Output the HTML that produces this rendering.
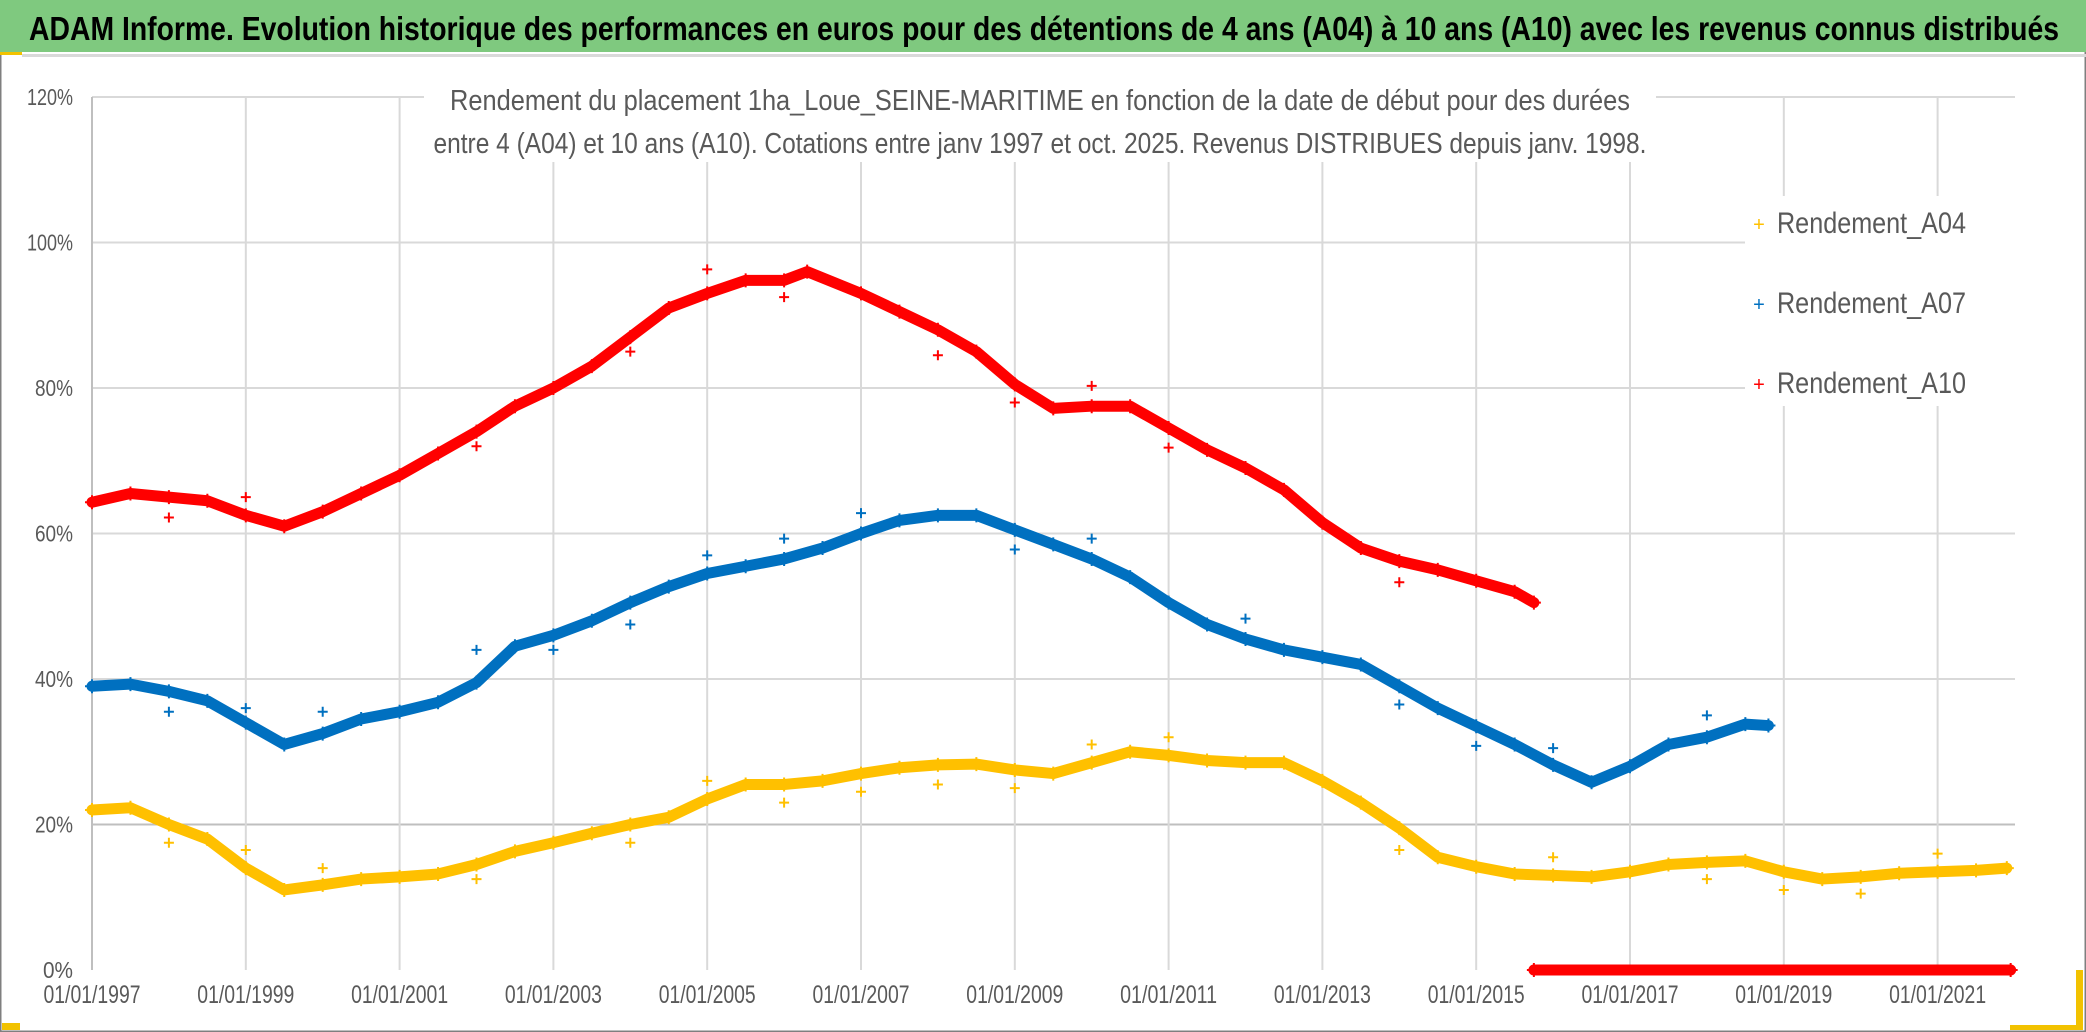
<!DOCTYPE html>
<html><head><meta charset="utf-8"><style>
html,body{margin:0;padding:0;background:#fff}
svg{display:block}
text{font-family:"Liberation Sans Narrow","Liberation Sans",sans-serif}
</style></head><body>
<svg id="chart" width="2086" height="1032" viewBox="0 0 2086 1032" xmlns="http://www.w3.org/2000/svg">
<rect x="0" y="0" width="2086" height="1032" fill="#fff" stroke="#7f7f7f" stroke-width="3"/>
<rect x="0" y="0" width="2086" height="52" fill="#7fc97f"/>
<rect x="0" y="52" width="22" height="3" fill="#f2c200"/>
<rect x="22" y="54" width="2064" height="3" fill="#d9d9d9"/>
<text x="29" y="40" font-size="33" font-weight="bold" fill="#000" textLength="2030" lengthAdjust="spacingAndGlyphs">ADAM Informe. Evolution historique des performances en euros pour des détentions de 4 ans (A04) à 10 ans (A10) avec les revenus connus distribués</text>
<rect x="2076" y="970" width="7" height="60" fill="#f2c200"/>
<rect x="2010" y="1025" width="73" height="5" fill="#f2c200"/>
<rect x="2" y="1023" width="18" height="7" fill="#f2c200"/>
<g id="grid"></g>
<g id="yticks"></g>
<g id="xticks"></g>
<rect x="424" y="88" width="1232" height="74" fill="#fff"/>
<text x="1040" y="110" font-size="29" fill="#595959" text-anchor="middle" textLength="1180" lengthAdjust="spacingAndGlyphs">Rendement du placement 1ha_Loue_SEINE-MARITIME en fonction de la date de début pour des durées</text>
<text x="1040" y="153" font-size="29" fill="#595959" text-anchor="middle" textLength="1213" lengthAdjust="spacingAndGlyphs">entre 4 (A04) et 10 ans (A10). Cotations entre janv 1997 et oct. 2025. Revenus DISTRIBUES depuis janv. 1998.</text>
<g id="series"></g>
<rect x="1745" y="196" width="270" height="210" fill="#fff"/>
<g>
 <g><text x="1759" y="231" font-size="20" fill="#ffc000" text-anchor="middle">+</text><text x="1777" y="233" font-size="30" fill="#595959" textLength="189" lengthAdjust="spacingAndGlyphs">Rendement_A04</text></g>
 <g><text x="1759" y="311" font-size="20" fill="#0070c0" text-anchor="middle">+</text><text x="1777" y="313" font-size="30" fill="#595959" textLength="189" lengthAdjust="spacingAndGlyphs">Rendement_A07</text></g>
 <g><text x="1759" y="391" font-size="20" fill="#ff0000" text-anchor="middle">+</text><text x="1777" y="393" font-size="30" fill="#595959" textLength="189" lengthAdjust="spacingAndGlyphs">Rendement_A10</text></g>
</g>
</svg>
<script>
const yTicks=[0,20,40,60,80,100,120];
const xTickYears=[1997,1999,2001,2003,2005,2007,2009,2011,2013,2015,2017,2019,2021];
const xTickLabels=["01/01/1997","01/01/1999","01/01/2001","01/01/2003","01/01/2005","01/01/2007","01/01/2009","01/01/2011","01/01/2013","01/01/2015","01/01/2017","01/01/2019","01/01/2021"];
const a04Dates=[1997,1997.5,1998,1998.5,1999,1999.5,2000,2000.5,2001,2001.5,2002,2002.5,2003,2003.5,2004,2004.5,2005,2005.5,2006,2006.5,2007,2007.5,2008,2008.5,2009,2009.5,2010,2010.5,2011,2011.5,2012,2012.5,2013,2013.5,2014,2014.5,2015,2015.5,2016,2016.5,2017,2017.5,2018,2018.5,2019,2019.5,2020,2020.5,2021,2021.5,2021.9];
const a04Values=[22,22.3,20,18,14,11,11.7,12.5,12.8,13.2,14.5,16.3,17.5,18.8,20,21,23.5,25.5,25.5,26,27,27.8,28.2,28.3,27.5,27,28.5,30,29.5,28.8,28.5,28.5,26,23,19.5,15.5,14.2,13.2,13,12.8,13.5,14.5,14.8,15,13.5,12.5,12.8,13.3,13.5,13.7,14];
const a04OutDates=[1998,1999,2000,2002,2004,2005,2006,2007,2008,2009,2010,2011,2014,2016,2018,2019,2020,2021];
const a04OutValues=[17.5,16.5,14,12.5,17.5,26,23,24.5,25.5,25,31,32,16.5,15.5,12.5,11,10.5,16];
const a07Dates=[1997,1997.5,1998,1998.5,1999,1999.5,2000,2000.5,2001,2001.5,2002,2002.5,2003,2003.5,2004,2004.5,2005,2005.5,2006,2006.5,2007,2007.5,2008,2008.5,2009,2009.5,2010,2010.5,2011,2011.5,2012,2012.5,2013,2013.5,2014,2014.5,2015,2015.5,2016,2016.5,2017,2017.5,2018,2018.5,2018.8];
const a07Values=[39,39.3,38.3,37,34,31,32.5,34.5,35.5,36.8,39.5,44.5,46,48,50.5,52.7,54.5,55.5,56.5,58,60,61.8,62.5,62.5,60.5,58.5,56.5,54,50.5,47.5,45.5,44,43,42,39,36,33.5,31,28.2,25.8,28,31,32,33.8,33.6];
const a07OutDates=[1998,1999,2000,2002,2003,2004,2005,2006,2007,2009,2010,2012,2014,2015,2016,2018];
const a07OutValues=[35.5,36,35.5,44,44,47.5,57,59.3,62.8,57.8,59.3,48.3,36.5,30.8,30.5,35];
const a10Dates=[1997,1997.5,1998,1998.5,1999,1999.5,2000,2000.5,2001,2001.5,2002,2002.5,2003,2003.5,2004,2004.5,2005,2005.5,2006,2006.3,2007,2007.5,2008,2008.5,2009,2009.5,2010,2010.5,2011,2011.5,2012,2012.5,2013,2013.5,2014,2014.5,2015,2015.5,2015.75];
const a10Values=[64.3,65.5,65,64.5,62.5,61,63,65.5,68,71,74,77.5,80,83,87,91,93,94.8,94.8,96,93,90.5,88,85,80.5,77.2,77.5,77.5,74.5,71.5,69,66,61.5,58,56.2,55,53.5,52,50.5];
const a10OutDates=[1998,1999,2002,2004,2005,2006,2008,2009,2010,2011,2014];
const a10OutValues=[62.2,65,72,85,96.3,92.5,84.5,78,80.3,71.8,53.3];
const a10ZeroDates=[2015.75,2021.95];
const a10ZeroValues=[0,0];

const NS="http://www.w3.org/2000/svg";
const X=y=>92+(y-1997)*76.9;
const Y=v=>970-v*7.275;
function mk(tag,attrs,parent){const e=document.createElementNS(NS,tag);for(const k in attrs)e.setAttribute(k,attrs[k]);parent.appendChild(e);return e;}
const grid=document.getElementById('grid'),yt=document.getElementById('yticks'),xt=document.getElementById('xticks'),ser=document.getElementById('series');
yTicks.forEach(v=>{
 const l=mk('line',{x1:92,x2:2015,y1:Y(v),y2:Y(v),stroke:v===0?'#fff':(v===20?'#bfbfbf':'#d9d9d9'),'stroke-width':2},grid);
 
 
 const t=mk('text',{x:73,y:Y(v)+8,'font-size':23,fill:'#595959','text-anchor':'end',textLength:v===0?30:(v===120||v===100?46:38),lengthAdjust:'spacingAndGlyphs'},yt);
 t.textContent=v+'%';
 
 
});
xTickYears.forEach((yr,i)=>{
 const l=mk('line',{x1:X(yr),x2:X(yr),y1:Y(120),y2:Y(0),stroke:i===0?'#bfbfbf':'#d9d9d9','stroke-width':2},grid);
 
 
 const t=mk('text',{x:X(yr),y:1003,'font-size':25,fill:'#595959','text-anchor':'middle',textLength:97,lengthAdjust:'spacingAndGlyphs'},xt);
 t.textContent=xTickLabels[i];
 
 
});
function series(dates,vals,od,ov,color,name){
 const g=mk('g',{},ser);
 
 
 const pts=dates.map((d,i)=>X(d)+','+Y(vals[i])).join(' ');
 const p=mk('polyline',{points:pts,fill:'none',stroke:color,'stroke-width':11,'stroke-linejoin':'round','stroke-linecap':'round'},g);
 
 
 const plus=(x,y,s)=>'M'+(x-s)+' '+y+'h'+(2*s)+'M'+x+' '+(y-s)+'v'+(2*s);
 let d='';
 dates.forEach((dt,i)=>{d+=plus(X(dt),Y(vals[i]),7);});
 od.forEach((dt,i)=>{d+=plus(X(dt),Y(ov[i]),5);});
 const m=mk('path',{d:d,stroke:color,'stroke-width':2,fill:'none'},g);
 
 
}
series(a04Dates,a04Values,a04OutDates,a04OutValues,'#ffc000','series-a04');
series(a07Dates,a07Values,a07OutDates,a07OutValues,'#0070c0','series-a07');
series(a10Dates,a10Values,a10OutDates,a10OutValues,'#ff0000','series-a10');
series(a10ZeroDates,a10ZeroValues,[],[],'#ff0000','series-a10-zero');
</script>
</body></html>
